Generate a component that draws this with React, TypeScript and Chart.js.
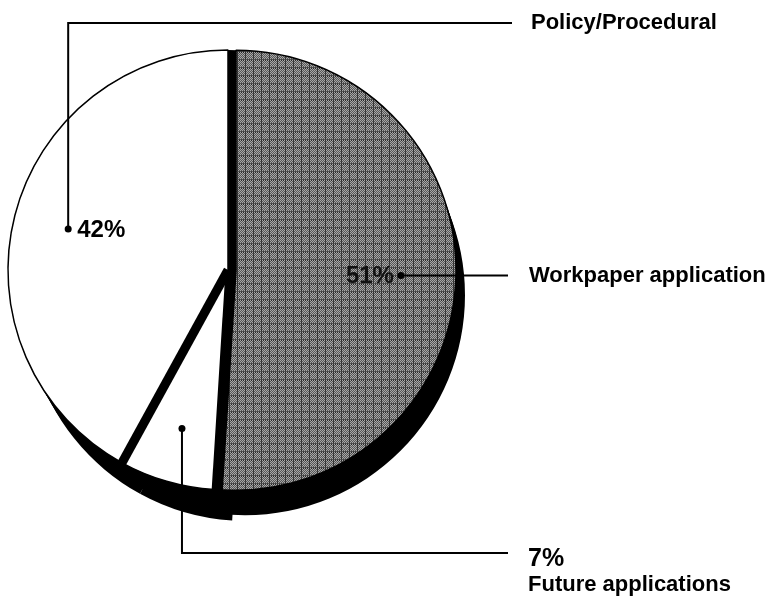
import React, { useEffect, useRef } from 'react';
import { Chart, registerables } from 'chart.js';

Chart.register(...registerables);

// ---- data ----
const categories = ['Workpaper application', 'Future applications', 'Policy/Procedural'];
const values = [51, 7, 42];
const percentLabels = ['51%', '7%', '42%'];

// ---- style constants ----
const EXPLODE = [8, 0, 0];
const SHADOW_DX = [9, 18, 18];
const SHADOW_DY = [25, 31, 31];
const FONT = "'Liberation Sans', Arial, Helvetica, sans-serif";

function makePattern(ctx: CanvasRenderingContext2D) {
  const c = document.createElement('canvas');
  c.width = 8;
  c.height = 8;
  const p = c.getContext('2d')!;
  const img = p.createImageData(8, 8);
  for (let y = 0; y < 8; y++) {
    for (let x = 0; x < 8; x++) {
      let v = (x + y) % 2 === 0 ? 235 : 20;
      if ((y === 3 || x === 5) && v > 100) v = 90;
      const k = (y * 8 + x) * 4;
      img.data[k] = v;
      img.data[k + 1] = v;
      img.data[k + 2] = v;
      img.data[k + 3] = 255;
    }
  }
  p.putImageData(img, 0, 0);
  return ctx.createPattern(c, 'repeat');
}

const piePlugin = {
  id: 'pie3d',
  beforeDatasetDraw(chart: any, args: any) {
    const ctx: CanvasRenderingContext2D = chart.ctx;
    const arcs = args.meta.data as any[];
    if (!arcs.length) return;
    const cx = arcs[0].x;
    const cy = arcs[0].y;
    const r = arcs[0].outerRadius;
    const shift = (i: number) => {
      const a = arcs[i];
      const mid = (a.startAngle + a.endAngle) / 2;
      return { ex: Math.cos(mid) * EXPLODE[i], ey: Math.sin(mid) * EXPLODE[i] };
    };
    ctx.save();
    ctx.fillStyle = '#000';
    // depth / shadow
    arcs.forEach((a, i) => {
      const { ex, ey } = shift(i);
      [0.25, 0.5, 0.75, 1].forEach((t) => {
        const x = a.x + ex + SHADOW_DX[i] * t;
        const y = a.y + ey + SHADOW_DY[i] * t;
        ctx.beginPath();
        ctx.moveTo(x, y);
        ctx.arc(x, y, a.outerRadius, a.startAngle, a.endAngle);
        ctx.closePath();
        ctx.fill();
      });
    });
    // black base under the slices
    ctx.beginPath();
    ctx.arc(cx, cy, r, 0, Math.PI * 2);
    ctx.fill();
    // the slices themselves
    arcs.forEach((a, i) => {
      const { ex, ey } = shift(i);
      ctx.save();
      ctx.translate(ex, ey);
      a.draw(ctx);
      ctx.restore();
    });
    // thick separators
    ctx.strokeStyle = '#000';
    ctx.lineCap = 'butt';
    const sep = (ang: number, w: number) => {
      ctx.lineWidth = w;
      ctx.beginPath();
      ctx.moveTo(cx, cy);
      ctx.lineTo(cx + Math.cos(ang) * r, cy + Math.sin(ang) * r);
      ctx.stroke();
    };
    sep(arcs[1].endAngle, 9);
    sep(arcs[1].startAngle, 5);
    ctx.restore();
    return false;
  },
};

const calloutPlugin = {
  id: 'callouts',
  afterDraw(chart: any) {
    const ctx: CanvasRenderingContext2D = chart.ctx;
    const arcs = chart.getDatasetMeta(0).data as any[];
    const anchor = (i: number) => {
      const a = arcs[i];
      const mid = (a.startAngle + a.endAngle) / 2;
      const rr = a.outerRadius * 0.75;
      return {
        x: a.x + Math.cos(mid) * (EXPLODE[i] + rr),
        y: a.y + Math.sin(mid) * (EXPLODE[i] + rr),
      };
    };
    const TOP_Y = 23;
    const BOTTOM_Y = 553;
    const LINE_END_X = 512;
    const LABEL_X = 531;
    ctx.save();
    ctx.strokeStyle = '#000';
    ctx.fillStyle = '#000';
    ctx.lineWidth = 2;
    const dot = (p: { x: number; y: number }) => {
      ctx.beginPath();
      ctx.arc(p.x, p.y, 3.5, 0, Math.PI * 2);
      ctx.fill();
    };
    ctx.textBaseline = 'alphabetic';

    // Policy/Procedural
    const p = anchor(2);
    ctx.beginPath();
    ctx.moveTo(p.x, p.y);
    ctx.lineTo(p.x, TOP_Y);
    ctx.lineTo(LINE_END_X, TOP_Y);
    ctx.stroke();
    dot(p);
    ctx.font = `bold 24px ${FONT}`;
    ctx.textAlign = 'left';
    ctx.fillText(percentLabels[2], p.x + 9, p.y + 8);
    ctx.font = `bold 22px ${FONT}`;
    ctx.fillText(categories[2], LABEL_X, TOP_Y + 6);

    // Workpaper application
    const w = anchor(0);
    ctx.beginPath();
    ctx.moveTo(w.x, w.y);
    ctx.lineTo(LINE_END_X - 4, w.y);
    ctx.stroke();
    dot(w);
    ctx.font = `bold 24px ${FONT}`;
    ctx.textAlign = 'right';
    ctx.fillStyle = '#111';
    ctx.fillText(percentLabels[0], w.x - 7, w.y + 8);
    ctx.fillStyle = '#000';
    ctx.textAlign = 'left';
    ctx.font = `bold 22px ${FONT}`;
    ctx.fillText(categories[0], LABEL_X - 2, w.y + 7);

    // Future applications
    const f = anchor(1);
    ctx.beginPath();
    ctx.moveTo(f.x, f.y);
    ctx.lineTo(f.x, BOTTOM_Y);
    ctx.lineTo(LINE_END_X - 4, BOTTOM_Y);
    ctx.stroke();
    dot(f);
    ctx.font = `bold 25px ${FONT}`;
    ctx.fillText(percentLabels[1], LABEL_X - 3, BOTTOM_Y + 13);
    ctx.font = `bold 22px ${FONT}`;
    ctx.fillText(categories[1], LABEL_X - 3, BOTTOM_Y + 38);
    ctx.restore();
  },
};

export default function App() {
  const ref = useRef<HTMLCanvasElement>(null);
  useEffect(() => {
    const canvas = ref.current!;
    const ctx = canvas.getContext('2d')!;
    const pattern = makePattern(ctx);
    const chart = new Chart(canvas, {
      type: 'pie',
      data: {
        labels: categories,
        datasets: [
          {
            data: values,
            backgroundColor: [pattern as any, '#ffffff', '#ffffff'],
            borderColor: '#000000',
            borderWidth: 1.5,
            radius: 220,
          } as any,
        ],
      },
      options: {
        responsive: false,
        animation: false,
        devicePixelRatio: 1,
        events: [],
        layout: { padding: { left: 8, top: 50, right: 321, bottom: 107 } },
        plugins: { legend: { display: false }, tooltip: { enabled: false } },
      },
      plugins: [piePlugin as any, calloutPlugin as any],
    });
    return () => chart.destroy();
  }, []);
  return (
    <div style={{ position: 'fixed', left: 0, top: 0, width: 769, height: 597, background: '#fff' }}>
      <canvas ref={ref} width={769} height={597} style={{ display: 'block', width: 769, height: 597 }} />
    </div>
  );
}
